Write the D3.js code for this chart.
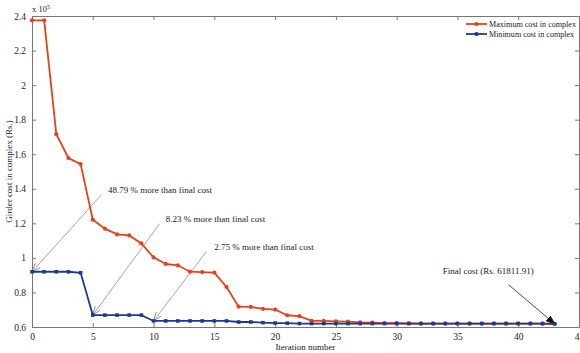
<!DOCTYPE html>
<html>
<head>
<meta charset="utf-8">
<script src="https://cdn.jsdelivr.net/npm/d3@7"></script>
<style>
  html, body { margin: 0; padding: 0; background: #fff; }
  svg text { font-family: "Liberation Serif", "DejaVu Serif", serif; fill: #222; }
</style>
</head>
<body>
<svg id="chart" width="580" height="353"></svg>
<script>
// Girder cost per iteration, in units of 1e5 Rs.
const iterations = d3.range(0, 44);
const maxCost = [
  2.375, 2.375, 1.716, 1.578, 1.543, 1.221, 1.169, 1.136, 1.130, 1.084,
  1.003, 0.965, 0.957, 0.920, 0.918, 0.915, 0.832, 0.718, 0.716, 0.705,
  0.701, 0.668, 0.663, 0.636, 0.635, 0.633, 0.631, 0.627, 0.625, 0.623,
  0.622, 0.621, 0.620, 0.620, 0.620, 0.620, 0.620, 0.620, 0.620, 0.620,
  0.620, 0.619, 0.619, 0.6181
];
const minCost = [
  0.9197, 0.9197, 0.9197, 0.9197, 0.914, 0.669, 0.669, 0.669, 0.669, 0.669,
  0.6351, 0.6351, 0.6351, 0.6351, 0.6351, 0.6351, 0.6351, 0.629, 0.629, 0.625,
  0.623, 0.622, 0.620, 0.620, 0.620, 0.620, 0.620, 0.620, 0.620, 0.620,
  0.620, 0.620, 0.620, 0.620, 0.620, 0.620, 0.620, 0.620, 0.620, 0.620,
  0.620, 0.620, 0.620, 0.6181
];
const seriesNames = ["Maximum cost in complex", "Minimum cost in complex"];
const xTicks = [0, 5, 10, 15, 20, 25, 30, 35, 40, 45];
const yTicks = [0.6, 0.8, 1, 1.2, 1.4, 1.6, 1.8, 2, 2.2, 2.4];

// Callouts: label text, label anchor (data units), line start, target point
const notes = [
  { text: "48.79 % more than final cost", tx: 6.25, ty: 1.378, sx: 5.7, sy: 1.365, px: 0, py: minCost[0], head: "open" },
  { text: "8.23 % more than final cost", tx: 11.0, ty: 1.205, sx: 10.5, sy: 1.198, px: 5, py: minCost[5], head: "open" },
  { text: "2.75 % more than final cost", tx: 15.0, ty: 1.043, sx: 14.35, sy: 1.036, px: 10, py: minCost[10], head: "open" },
  { text: "Final cost (Rs. 61811.91)", tx: 33.8, ty: 0.905, sx: 39.2, sy: 0.845, px: 43, py: minCost[43], head: "solid" }
];

const W = 580, H = 353;
const margin = { top: 16, right: 1, bottom: 26, left: 32 };
const svg = d3.select("#chart");

const x = d3.scaleLinear().domain([0, 45]).range([margin.left, W - margin.right]);
const y = d3.scaleLinear().domain([0.6, 2.4]).range([H - margin.bottom, margin.top]);

const red = "#e2431d", blue = "#1d3a8e";

svg.append("defs").selectAll("marker")
  .data(["open", "solid"]).join("marker")
  .attr("id", d => "arrow-" + d)
  .attr("viewBox", "0 0 10 10").attr("refX", 9.5).attr("refY", 5)
  .attr("markerWidth", 9).attr("markerHeight", 9)
  .attr("markerUnits", "userSpaceOnUse")
  .attr("orient", "auto")
  .append("path")
  .attr("d", d => d === "open" ? "M0,1.5 L10,5 L0,8.5" : "M0,1.5 L10,5 L0,8.5 Z")
  .attr("fill", d => d === "open" ? "none" : "#111")
  .attr("stroke", d => d === "open" ? "#888" : "#111")
  .attr("stroke-width", 1);

// Axes: labelled bottom/left, unlabelled top/right, ticks pointing inward
const axisStyle = g => {
  g.select(".domain").attr("stroke", "#777");
  g.selectAll(".tick line").attr("stroke", "#777");
  g.selectAll(".tick text").attr("font-size", 9.5).attr("fill", "#333")
    .attr("font-family", "Liberation Serif, serif");
};
svg.append("g").attr("transform", `translate(0,${H - margin.bottom})`)
  .call(d3.axisBottom(x).tickValues(xTicks).tickSizeInner(-4).tickSizeOuter(0).tickPadding(6))
  .call(axisStyle);
svg.append("g").attr("transform", `translate(0,${margin.top})`)
  .call(d3.axisTop(x).tickValues(xTicks).tickSizeInner(-4).tickSizeOuter(0).tickFormat(""))
  .call(axisStyle);
svg.append("g").attr("transform", `translate(${margin.left},0)`)
  .call(d3.axisLeft(y).tickValues(yTicks).tickSizeInner(-4).tickSizeOuter(0).tickPadding(6).tickFormat(d3.format("~g")))
  .call(axisStyle);
svg.append("g").attr("transform", `translate(${W - margin.right},0)`)
  .call(d3.axisRight(y).tickValues(yTicks).tickSizeInner(-4).tickSizeOuter(0).tickFormat(""))
  .call(axisStyle);

// Exponent label
const ex = svg.append("text").attr("x", margin.left).attr("y", margin.top - 4).attr("font-size", 8.5);
ex.append("tspan").text("x 10");
ex.append("tspan").attr("dy", -3.5).attr("font-size", 6).text("5");

// Axis titles
svg.append("text").attr("x", (margin.left + W - margin.right) / 2).attr("y", H - 3)
  .attr("text-anchor", "middle").attr("font-size", 9).text("Iteration number");
svg.append("text").attr("transform", `translate(12,${(margin.top + H - margin.bottom) / 2}) rotate(-90)`)
  .attr("text-anchor", "middle").attr("font-size", 9).text("Girder cost in complex (Rs.)");

// Callout arrows and labels
notes.forEach(n => {
  svg.append("line")
    .attr("x1", x(n.sx)).attr("y1", y(n.sy)).attr("x2", x(n.px)).attr("y2", y(n.py))
    .attr("stroke", n.head === "solid" ? "#333" : "#999").attr("stroke-width", 0.9)
    .attr("marker-end", `url(#arrow-${n.head})`);
  svg.append("text").attr("x", x(n.tx)).attr("y", y(n.ty)).attr("font-size", 9).text(n.text);
});

// Series lines and markers
const line = d3.line().x((d, i) => x(iterations[i])).y(d => y(d));
svg.append("path").datum(maxCost).attr("d", line)
  .attr("fill", "none").attr("stroke", red).attr("stroke-width", 1.8);
svg.append("g").selectAll("circle").data(maxCost).join("circle")
  .attr("cx", (d, i) => x(iterations[i])).attr("cy", d => y(d)).attr("r", 2.1).attr("fill", red);

svg.append("path").datum(minCost).attr("d", line)
  .attr("fill", "none").attr("stroke", blue).attr("stroke-width", 1.8);
svg.append("g").selectAll("path").data(minCost).join("path")
  .attr("transform", (d, i) => `translate(${x(iterations[i])},${y(d)})`)
  .attr("d", d3.symbol(d3.symbolSquare, 13)).attr("fill", blue);

// Legend
const legend = svg.append("g");
[red, blue].forEach((c, i) => {
  const ly = 24 + i * 10;
  legend.append("line").attr("x1", 466).attr("x2", 487).attr("y1", ly).attr("y2", ly)
    .attr("stroke", c).attr("stroke-width", 1.8);
  if (i === 0) legend.append("circle").attr("cx", 476.5).attr("cy", ly).attr("r", 2.1).attr("fill", c);
  else legend.append("path").attr("transform", `translate(476.5,${ly})`)
    .attr("d", d3.symbol(d3.symbolSquare, 13)).attr("fill", c);
  legend.append("text").attr("x", 489).attr("y", ly + 3).attr("font-size", 8.6)
    .attr("textLength", i === 0 ? 87 : 85).attr("lengthAdjust", "spacingAndGlyphs")
    .text(seriesNames[i]);
});
</script>
</body>
</html>
